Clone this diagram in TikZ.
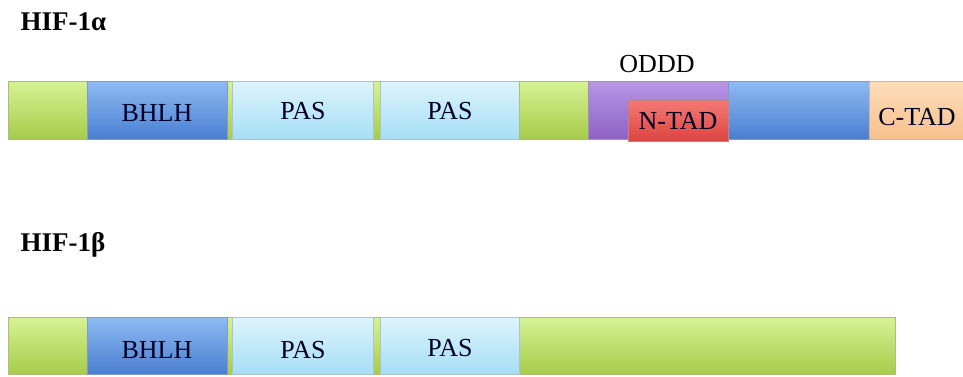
\documentclass[tikz,border=0pt]{standalone}
\usepackage{fontspec}
\setmainfont{Liberation Serif}
\begin{document}
\begin{tikzpicture}[x=1pt,y=-1pt,
  dom/.style={draw=#1!70!black!60, line width=0.6pt, anchor=north west, inner sep=0pt, outer sep=0pt},
  lime/.style={dom=limeC, top color=limeT, bottom color=limeC},
  bluebox/.style={dom=blueC, top color=blueT, bottom color=blueC},
  pasbox/.style={dom=pasC, top color=pasT, bottom color=pasC},
  purp/.style={dom=purpC, top color=purpT, bottom color=purpC},
  redbox/.style={dom=redC, top color=redT, bottom color=redC},
  orng/.style={dom=orngC, top color=orngT, bottom color=orngC},
  lbl/.style={font=\fontsize{26}{30}\selectfont, text=black!85!blue},
  title/.style={font=\fontsize{27}{30}\selectfont\bfseries, anchor=west}]
\definecolor{limeT}{HTML}{D6F294}
\definecolor{limeC}{HTML}{A6CC4A}
\definecolor{blueT}{HTML}{8EBBF4}
\definecolor{blueC}{HTML}{4A7ED0}
\definecolor{pasT}{HTML}{DDF4FD}
\definecolor{pasC}{HTML}{A6DEF4}
\definecolor{purpT}{HTML}{B896E6}
\definecolor{purpC}{HTML}{8E62C6}
\definecolor{redT}{HTML}{F47A76}
\definecolor{redC}{HTML}{DC4440}
\definecolor{orngT}{HTML}{FDDDB8}
\definecolor{orngC}{HTML}{F8C08E}
\useasboundingbox[fill=white] (0,0) rectangle (963,376);

% ---------- HIF-1 alpha ----------
\node[title] (ta) at (17,22) {HIF-1α};
\node[lime, minimum width=580pt, minimum height=58pt] (abar) at (8,81) {};
\node[lime, minimum width=79pt, minimum height=58pt] (a1) at (8,81) {};
\node[bluebox, minimum width=140pt, minimum height=58pt] (a2) at (87,81) {};
\node[pasbox, minimum width=141pt, minimum height=58pt] (a3) at (232,81) {};
\node[pasbox, minimum width=139pt, minimum height=58pt] (a4) at (380,81) {};
\node[lime, minimum width=69pt, minimum height=58pt] (a5) at (519,81) {};
\node[purp, minimum width=140pt, minimum height=58pt] (a6) at (588,81) {};
\node[bluebox, minimum width=141pt, minimum height=58pt] (a7) at (728,81) {};
\node[orng, minimum width=100pt, minimum height=58pt] (a8) at (869,81) {};
\node[redbox, minimum width=100pt, minimum height=41pt] (ntad) at (628,100) {};
\node[lbl] at (157,113) {BHLH};
\node[lbl] at (303,111) {PAS};
\node[lbl] at (450,111) {PAS};
\node[lbl] at (678,121) {N-TAD};
\node[lbl] at (917,117) {C-TAD};
\node[lbl, text=black] (oddd) at (657,64) {ODDD};

% ---------- HIF-1 beta ----------
\node[title] (tb) at (17,245) {HIF-1β};
\node[lime, minimum width=887pt, minimum height=57pt] (bbar) at (8,317) {};
\node[lime, minimum width=79pt, minimum height=57pt] (b1) at (8,317) {};
\node[bluebox, minimum width=140pt, minimum height=57pt] (b2) at (87,317) {};
\node[pasbox, minimum width=141pt, minimum height=57pt] (b3) at (232,317) {};
\node[pasbox, minimum width=139pt, minimum height=57pt] (b4) at (380,317) {};
\node[lbl] at (157,350) {BHLH};
\node[lbl] at (303,350) {PAS};
\node[lbl] at (450,348) {PAS};
\end{tikzpicture}
\end{document}
